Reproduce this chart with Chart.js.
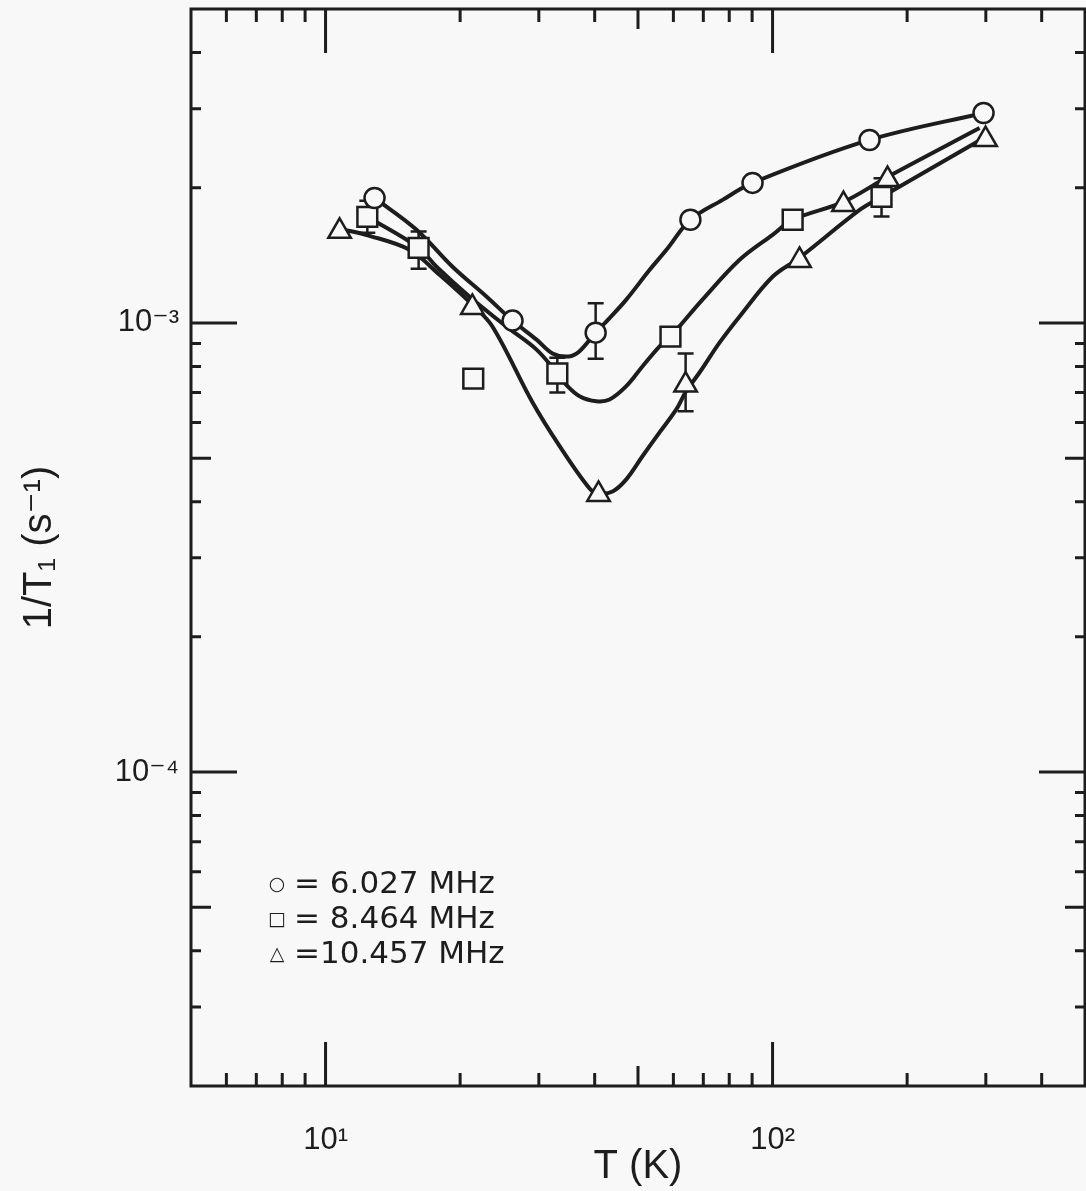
<!DOCTYPE html>
<html><head><meta charset="utf-8">
<script src="https://cdn.jsdelivr.net/npm/chart.js@4/dist/chart.umd.min.js"></script>
<style>html,body{margin:0;padding:0;background:#f8f8f8;} #wrap{width:1086px;height:1191px;}</style>
</head><body><div id="wrap"><canvas id="c" width="1086" height="1191"></canvas></div>
<script>
// ---- data: markers ----
const circleT = [12.87, 26.2, 40.2, 65.5, 90.2, 164.8, 296.5];
const circleV = [1.898e-3, 1.012e-3, 0.9515e-3, 1.697e-3, 2.05e-3, 2.555e-3, 2.934e-3];
const squareT = [12.4, 16.15, 21.4, 33.0, 59.1, 110.9, 175.3];
const squareV = [1.723e-3, 1.47e-3, 0.752e-3, 0.7716e-3, 0.932e-3, 1.697e-3, 1.908e-3];
const triT = [10.75, 21.3, 40.8, 63.9, 114.9, 144.1, 180.8, 299.6];
const triV = [1.60e-3, 1.083e-3, 0.415e-3, 0.727e-3, 1.378e-3, 1.835e-3, 2.085e-3, 2.56e-3];

// ---- data: error bars ----
const errT  = [40.2, 12.4, 16.15, 33.0, 175.3, 63.9];
const errLo = [0.832e-3, 1.587e-3, 1.32e-3, 0.70e-3, 1.725e-3, 0.636e-3];
const errHi = [1.106e-3, 1.87e-3, 1.598e-3, 0.837e-3, 2.1e-3, 0.855e-3];

// ---- data: drawn smooth curves ----
const curveAT = [12.87, 15.98, 19.23, 22.93, 26.2, 29.65, 32.2, 35.0, 37.0, 40.2, 43.19, 47.07, 53.1, 57.9, 65.5, 77.3, 90.2, 164.8, 296.5];
const curveAV = [1.898e-3, 1.612e-3, 1.334e-3, 1.144e-3, 1.012e-3, 0.918e-3, 0.855e-3, 0.842e-3, 0.865e-3, 0.9515e-3, 1.025e-3, 1.127e-3, 1.313e-3, 1.455e-3, 1.697e-3, 1.879e-3, 2.05e-3, 2.555e-3, 2.934e-3];
const curveBT = [12.4, 16.15, 17.71, 21.0, 25.4, 29.65, 33.0, 34.56, 37.0, 40.33, 43.19, 47.07, 51.2, 55.88, 59.1, 61.9, 69.7, 84.4, 100, 110.9, 144.1, 180.8, 290.5];
const curveBV = [1.723e-3, 1.47e-3, 1.334e-3, 1.144e-3, 0.981e-3, 0.872e-3, 0.7716e-3, 0.728e-3, 0.687e-3, 0.6694e-3, 0.6753e-3, 0.723e-3, 0.8008e-3, 0.887e-3, 0.932e-3, 0.9827e-3, 1.127e-3, 1.382e-3, 1.571e-3, 1.697e-3, 1.86e-3, 2.114e-3, 2.716e-3];
const curveCT = [10.75, 12.54, 15.41, 17.99, 21.3, 23.64, 29.05, 33.39, 38.96, 40.8, 43.85, 47.07, 51.2, 55.88, 60.9, 64.0, 68.65, 76.1, 84.4, 100, 114.9, 156.6, 175.3, 299.6];
const curveCV = [1.62e-3, 1.563e-3, 1.455e-3, 1.28e-3, 1.098e-3, 0.981e-3, 0.665e-3, 0.5318e-3, 0.428e-3, 0.4175e-3, 0.4215e-3, 0.4485e-3, 0.5055e-3, 0.5706e-3, 0.6418e-3, 0.7035e-3, 0.7756e-3, 0.904e-3, 1.034e-3, 1.267e-3, 1.397e-3, 1.785e-3, 1.908e-3, 2.594e-3];

// ---- axes ----
const xMin = 5, xMax = 500;
const yMin = 2e-5, yMax = 5e-3;
const xTickValues = [10, 100];
const xTickLabels = ['10\u00B9', '10\u00B2'];
const yTickValues = [1e-4, 1e-3];
const yTickLabels = ['10\u207B\u2074', '10\u207B\u00B3'];
const xMinorTicks = [6,7,8,9,20,30,40,50,60,70,80,90,200,300,400];
const yMinorTicks = [3e-5,4e-5,5e-5,6e-5,7e-5,8e-5,9e-5,2e-4,3e-4,4e-4,5e-4,6e-4,7e-4,8e-4,9e-4,2e-3,3e-3,4e-3];
const xTitle = 'T (K)';
const yTitle = '1/T\u2081 (s\u207B\u00B9)';
const legendSymbols = ['\u25CB', '\u25A1', '\u25B3'];
const legendTexts = ['= 6.027 MHz', '= 8.464 MHz', '=10.457 MHz'];

const INK = '#1d1d1d';
const BG = '#f8f8f8';
const FONT = "'Liberation Sans', 'DejaVu Sans', sans-serif";
const LFONT = "'DejaVu Sans', sans-serif";

const pts = (xs, ys) => xs.map((x, i) => ({x: x, y: ys[i]}));

const lineDS = (xs, ys) => ({
  data: pts(xs, ys), showLine: true, borderColor: INK, borderWidth: 4,
  pointRadius: 0, tension: 0.35, fill: false, order: 2
});
const markDS = (xs, ys, style, r) => ({
  data: pts(xs, ys), showLine: false, pointStyle: style, pointRadius: r,
  pointBorderWidth: 2.5, pointBackgroundColor: BG, pointBorderColor: INK, order: 0
});

const decorPlugin = {
  id: 'decor',
  beforeDatasetsDraw(chart) {
    const ctx = chart.ctx, xs = chart.scales.x, ys = chart.scales.y;
    ctx.save();
    ctx.strokeStyle = INK; ctx.lineWidth = 2.5;
    errT.forEach((t, i) => {
      const px = xs.getPixelForValue(t);
      const p1 = ys.getPixelForValue(errLo[i]);
      const p2 = ys.getPixelForValue(errHi[i]);
      ctx.beginPath();
      ctx.moveTo(px, p1); ctx.lineTo(px, p2);
      ctx.moveTo(px - 8, p1); ctx.lineTo(px + 8, p1);
      ctx.moveTo(px - 8, p2); ctx.lineTo(px + 8, p2);
      ctx.stroke();
    });
    ctx.restore();
  },
  afterDraw(chart) {
    const ctx = chart.ctx, a = chart.chartArea, xs = chart.scales.x, ys = chart.scales.y;
    ctx.save();
    ctx.strokeStyle = INK; ctx.lineWidth = 3; ctx.lineCap = 'butt';
    ctx.strokeRect(a.left, a.top, a.right - a.left, a.bottom - a.top);
    ctx.beginPath();
    xMinorTicks.forEach(v => {
      const p = xs.getPixelForValue(v);
      const len = (v === 50) ? 20 : 13;
      ctx.moveTo(p, a.bottom); ctx.lineTo(p, a.bottom - len);
      ctx.moveTo(p, a.top); ctx.lineTo(p, a.top + len);
    });
    xTickValues.forEach(v => {
      const p = xs.getPixelForValue(v);
      ctx.moveTo(p, a.bottom); ctx.lineTo(p, a.bottom - 44);
      ctx.moveTo(p, a.top); ctx.lineTo(p, a.top + 44);
    });
    yMinorTicks.forEach(v => {
      const p = ys.getPixelForValue(v);
      const five = Math.abs(v / Math.pow(10, Math.floor(Math.log10(v) + 1e-9)) - 5) < 1e-6;
      const len = five ? 20 : 10;
      ctx.moveTo(a.left, p); ctx.lineTo(a.left + len, p);
      ctx.moveTo(a.right, p); ctx.lineTo(a.right - len, p);
    });
    yTickValues.forEach(v => {
      const p = ys.getPixelForValue(v);
      ctx.moveTo(a.left, p); ctx.lineTo(a.left + 46, p);
      ctx.moveTo(a.right, p); ctx.lineTo(a.right - 46, p);
    });
    ctx.stroke();

    // legend text
    ctx.fillStyle = INK;
    ctx.textBaseline = 'middle';
    legendTexts.forEach((t, i) => {
      const y = a.top + 876 + i * 35;
      ctx.font = '19px ' + LFONT;
      ctx.textAlign = 'center';
      ctx.fillText(legendSymbols[i], a.left + 86, y);
      ctx.font = '31px ' + LFONT;
      ctx.textAlign = 'left';
      ctx.fillText(t, a.left + 103, y);
    });
    ctx.restore();
  }
};

new Chart(document.getElementById('c'), {
  type: 'scatter',
  data: {
    datasets: [
      lineDS(curveAT, curveAV),
      lineDS(curveBT, curveBV),
      lineDS(curveCT, curveCV),
      markDS(circleT, circleV, 'circle', 10),
      markDS(squareT, squareV, 'rect', 14),
      markDS(triT, triV, 'triangle', 13)
    ]
  },
  options: {
    responsive: false,
    devicePixelRatio: 1,
    animation: false,
    layout: { autoPadding: false, padding: { top: 9, right: 1, left: 0, bottom: 0 } },
    plugins: { legend: { display: false }, tooltip: { enabled: false } },
    scales: {
      x: {
        type: 'logarithmic', position: 'bottom', min: xMin, max: xMax,
        grid: { display: false, drawTicks: false },
        border: { display: false },
        afterBuildTicks: s => { s.ticks = xTickValues.map(v => ({ value: v })); },
        afterFit: s => { s.height = 105; s.paddingLeft = 0; s.paddingRight = 0; },
        ticks: {
          autoSkip: false, maxRotation: 0, padding: 36, color: INK,
          font: { family: FONT, size: 31 },
          callback: (v, i) => xTickLabels[i]
        },
        title: { display: true, text: xTitle, color: INK, font: { family: FONT, size: 40 }, padding: { top: 0, bottom: 0 } }
      },
      y: {
        type: 'logarithmic', position: 'left', min: yMin, max: yMax,
        grid: { display: false, drawTicks: false },
        border: { display: false },
        afterBuildTicks: s => { s.ticks = yTickValues.map(v => ({ value: v })); },
        afterFit: s => { s.width = 191; s.paddingTop = 0; s.paddingBottom = 0; },
        ticks: {
          autoSkip: false, padding: 12, color: INK,
          font: { family: FONT, size: 31 },
          callback: (v, i) => yTickLabels[i]
        },
        title: { display: true, text: yTitle, color: INK, font: { family: FONT, size: 40 }, padding: { top: 16, bottom: 0 } }
      }
    }
  },
  plugins: [decorPlugin]
});
</script>
</body></html>
